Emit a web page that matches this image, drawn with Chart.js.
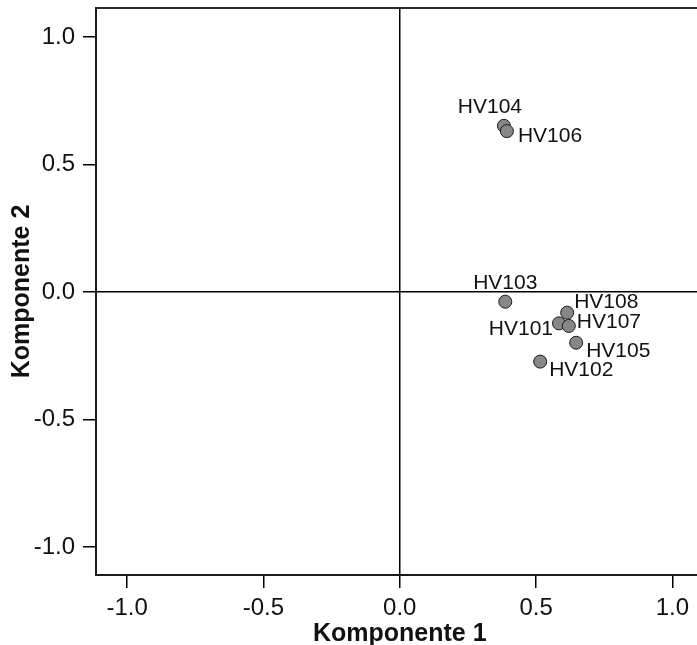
<!DOCTYPE html>
<html>
<head>
<meta charset="utf-8">
<script src="https://cdn.jsdelivr.net/npm/chart.js@4/dist/chart.umd.min.js"></script>
<style>
  html, body { margin: 0; background: #fff; overflow: hidden; width: 697px; height: 645px; }
  canvas { display: block; }
</style>
</head>
<body>
<!-- the original export is cropped on the right, so the canvas runs past the window -->
<canvas id="chart" width="711" height="645"></canvas>
<script>
// Komponentenplot (rotated space)
const pointNames = ['HV101', 'HV102', 'HV103', 'HV104', 'HV105', 'HV106', 'HV107', 'HV108'];
const komp1 = [0.584, 0.515, 0.387, 0.382, 0.647, 0.393, 0.620, 0.614];
const komp2 = [-0.123, -0.273, -0.038, 0.652, -0.199, 0.631, -0.133, -0.081];

// where each name sits next to its point (px offset, text align)
const labelPlacement = {
  HV101: [-6, 6, 'right'],
  HV102: [9, 9, 'left'],
  HV103: [0, -18, 'center'],
  HV104: [-14, -19, 'center'],
  HV105: [10, 8, 'left'],
  HV106: [11, 5, 'left'],
  HV107: [8, -4, 'left'],
  HV108: [7, -10, 'left'],
};

const font = 'Liberation Sans, Arial, sans-serif';
const ink = '#111';

const frameTop = {
  id: 'frameTop',
  afterDraw(chart) {
    const { ctx, chartArea } = chart;
    ctx.save();
    ctx.strokeStyle = '#2a2a2a';
    ctx.lineWidth = 2;
    ctx.beginPath();
    ctx.moveTo(chartArea.left, chartArea.top);
    ctx.lineTo(chartArea.right, chartArea.top);
    ctx.stroke();
    ctx.restore();
  },
};

const pointLabels = {
  id: 'pointLabels',
  afterDatasetsDraw(chart) {
    const { ctx } = chart;
    const meta = chart.getDatasetMeta(0);
    ctx.save();
    ctx.font = '21px ' + font;
    ctx.fillStyle = ink;
    ctx.textBaseline = 'middle';
    meta.data.forEach((pt, i) => {
      const name = pointNames[i];
      const [dx, dy, align] = labelPlacement[name];
      ctx.textAlign = align;
      ctx.fillText(name, pt.x + dx, pt.y + dy);
    });
    ctx.restore();
  },
};

const zeroLine = (c) => (c.tick && c.tick.value === 0 ? '#000' : 'rgba(0,0,0,0)');

new Chart(document.getElementById('chart'), {
  type: 'scatter',
  data: {
    datasets: [{
      data: komp1.map((x, i) => ({ x: x, y: komp2[i] })),
      pointRadius: 6.5,
      pointHoverRadius: 6.5,
      pointBackgroundColor: '#878787',
      pointBorderColor: '#1a1a1a',
      pointBorderWidth: 1,
    }],
  },
  options: {
    responsive: false,
    animation: false,
    layout: { padding: { top: 8, right: 0, left: 0, bottom: 0 } },
    plugins: {
      legend: { display: false },
      tooltip: { enabled: false },
    },
    scales: {
      x: {
        type: 'linear',
        min: -1.114,
        max: 1.114,
        afterFit: (s) => {
          s.height = 70;
          s.paddingLeft = 0;
          s.paddingRight = 0;
        },
        ticks: {
          stepSize: 0.5,
          includeBounds: false,
          padding: 6,
          color: ink,
          font: { family: font, size: 24 },
          callback: (v) => v.toFixed(1),
        },
        grid: {
          color: zeroLine,
          lineWidth: 1.5,
          tickColor: '#000',
          tickLength: 13,
          tickWidth: 1.5,
        },
        border: { display: true, color: '#1a1a1a', width: 2 },
        title: {
          display: true,
          text: 'Komponente 1',
          color: ink,
          font: { family: font, size: 25, weight: 'bold', lineHeight: 0.85 },
          padding: 0,
        },
      },
      y: {
        type: 'linear',
        min: -1.11,
        max: 1.114,
        afterFit: (s) => {
          s.width = 96;
          s.paddingTop = 0;
          s.paddingBottom = 0;
        },
        ticks: {
          stepSize: 0.5,
          includeBounds: false,
          padding: 8,
          color: ink,
          font: { family: font, size: 24 },
          callback: (v) => v.toFixed(1),
        },
        grid: {
          color: zeroLine,
          lineWidth: 1.5,
          tickColor: '#000',
          tickLength: 13,
          tickWidth: 1.5,
        },
        border: { display: true, color: '#1a1a1a', width: 2 },
        title: {
          display: true,
          text: 'Komponente 2',
          color: ink,
          font: { family: font, size: 25, weight: 'bold', lineHeight: 1 },
          padding: { top: 10, bottom: 0 },
        },
      },
    },
  },
  plugins: [frameTop, pointLabels],
});
</script>
</body>
</html>
